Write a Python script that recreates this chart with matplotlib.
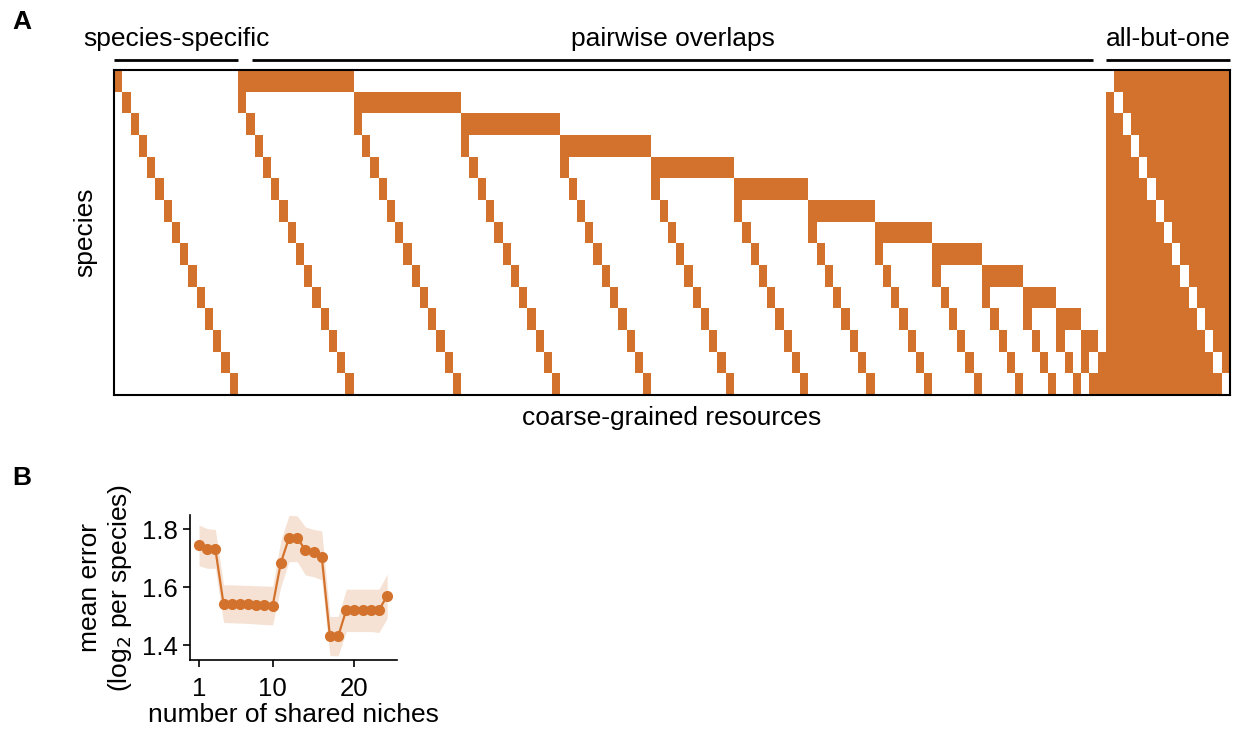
import numpy as np
import matplotlib
matplotlib.use("Agg")
import matplotlib.pyplot as plt
from matplotlib.colors import ListedColormap
import matplotlib.transforms as mtransforms

plt.rcParams['font.family'] = ['Liberation Sans', 'DejaVu Sans']

ORANGE = '#D3722C'

# panel A: niche structure
n_species = 15
group_labels = ['species-specific', 'pairwise overlaps', 'all-but-one']

# panel B: mean error vs number of shared niches
n_shared = list(range(1, 25))
err_mean = [1.746, 1.732, 1.732, 1.543, 1.543, 1.543, 1.543, 1.540, 1.538, 1.537,
            1.685, 1.771, 1.771, 1.729, 1.721, 1.706, 1.431, 1.431, 1.523, 1.523,
            1.523, 1.523, 1.523, 1.571]
err_hi = [1.815, 1.803, 1.800, 1.609, 1.609, 1.608, 1.607, 1.606, 1.605, 1.604,
          1.763, 1.849, 1.847, 1.809, 1.800, 1.795, 1.500, 1.500, 1.594, 1.594,
          1.594, 1.594, 1.594, 1.646]
err_lo = [1.675, 1.666, 1.666, 1.479, 1.478, 1.477, 1.476, 1.474, 1.472, 1.471,
          1.603, 1.689, 1.689, 1.643, 1.637, 1.626, 1.365, 1.364, 1.448, 1.448,
          1.448, 1.448, 1.445, 1.494]

# build presence matrix (species x coarse-grained resources)
cols = []
for i in range(n_species):
    c = np.zeros(n_species); c[i] = 1
    cols.append(c)
for i in range(n_species):
    for j in range(i + 1, n_species):
        c = np.zeros(n_species); c[i] = 1; c[j] = 1
        cols.append(c)
for i in range(n_species):
    c = np.ones(n_species); c[i] = 0
    cols.append(c)
M = np.array(cols).T
n_res = M.shape[1]
n_pair = n_species * (n_species - 1) // 2

fig = plt.figure(figsize=(12.33, 7.29), dpi=100)

axA = fig.add_axes([0.0925, 0.4582, 0.9051, 0.4458])
axA.imshow(M, cmap=ListedColormap(['white', ORANGE]), aspect='auto',
           interpolation='nearest', extent=(0, n_res, n_species, 0))
axA.set_xticks([]); axA.set_yticks([])
for s in axA.spines.values():
    s.set_linewidth(1.5)
axA.set_ylabel('species', fontsize=19, labelpad=12)
axA.set_xlabel('coarse-grained resources', fontsize=19, labelpad=8)

trans = mtransforms.blended_transform_factory(axA.transData, axA.transAxes)
spans = [(0, n_species), (n_species + 1.7, n_species + n_pair - 1.6),
         (n_species + n_pair, n_res)]
for (x0, x1), lab in zip(spans, group_labels):
    axA.plot([x0, x1], [1.031, 1.031], color='black', lw=2, transform=trans,
             clip_on=False, solid_capstyle='butt')
    axA.text((x0 + x1) / 2, 1.094, lab, transform=trans, ha='center',
             va='center', fontsize=19)

axB = fig.add_axes([0.1541, 0.0947, 0.1679, 0.1989])
axB.fill_between(n_shared, err_lo, err_hi, color=ORANGE, alpha=0.2, lw=0)
axB.plot(n_shared, err_mean, color=ORANGE, lw=1.6, marker='o', markersize=7)
axB.set_xlim(-0.1, 25.2)
axB.set_ylim(1.35, 1.85)
axB.set_xticks([1, 10, 20])
axB.set_yticks([1.4, 1.6, 1.8])
axB.tick_params(labelsize=18.5, width=1.2, length=5)
axB.tick_params(axis='x', pad=7)
for s in ['top', 'right']:
    axB.spines[s].set_visible(False)
for s in ['left', 'bottom']:
    axB.spines[s].set_linewidth(1.2)
axB.set_ylabel('mean error\n(log$_2$ per species)', fontsize=19, labelpad=6)
axB.set_xlabel('number of shared niches', fontsize=19, labelpad=2)

fig.text(22 / 1233, 1 - 22 / 729, 'A', fontsize=19, fontweight='bold',
         ha='center', va='center')
fig.text(22 / 1233, 1 - 478 / 729, 'B', fontsize=19, fontweight='bold',
         ha='center', va='center')

fig.savefig('out.png', dpi=100)
